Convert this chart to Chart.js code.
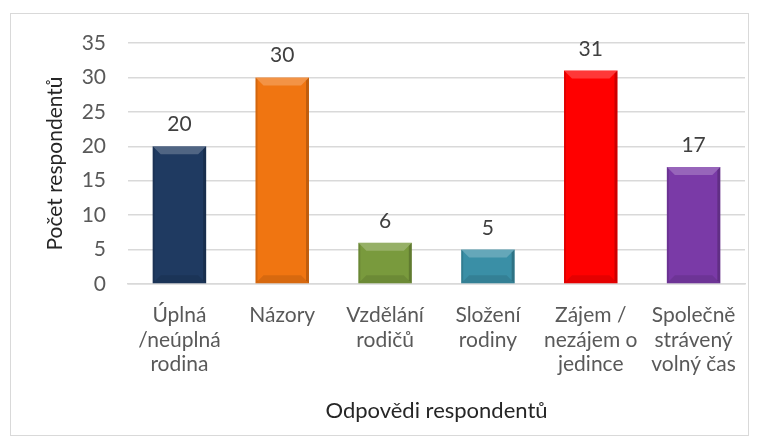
<!DOCTYPE html>
<html><head><meta charset="utf-8">
<script src="https://cdn.jsdelivr.net/npm/chart.js@4/dist/chart.umd.min.js"></script>
<style>
html,body{margin:0;padding:0;background:#fff;}
#wrap{position:relative;width:760px;height:448px;}
#frame{position:absolute;left:10px;top:13px;width:739px;height:423px;border:1px solid #d9d9d9;box-sizing:border-box;pointer-events:none;}
</style></head>
<body>
<div id="wrap"><canvas id="c" width="760" height="448"></canvas><div id="frame"></div></div>
<script>
const categories = [
  ["Úplná","/neúplná","rodina"],
  ["Názory"],
  ["Vzdělání","rodičů"],
  ["Složení","rodiny"],
  ["Zájem /","nezájem o","jedince"],
  ["Společně","strávený","volný čas"]
];
const values = [20, 30, 6, 5, 31, 17];
const barColors = ["#1F3A61", "#F07511", "#799A3D", "#3A8FA6", "#FF0000", "#7A3AA7"];
const yTicks = [0, 5, 10, 15, 20, 25, 30, 35];
const yTitle = "Počet respondentů";
const xTitle = "Odpovědi respondentů";

const FONT = "Lato, 'Open Sans', sans-serif";
const FS = 21;

const valueLabels = {
  id: 'valueLabels',
  afterDatasetsDraw(chart) {
    const ctx = chart.ctx;
    const meta = chart.getDatasetMeta(0);
    ctx.save();
    ctx.font = FS + "px " + FONT;
    ctx.fillStyle = "#404040";
    ctx.textAlign = "center";
    ctx.textBaseline = "alphabetic";
    meta.data.forEach((bar, i) => {
      ctx.fillText(String(values[i]), bar.x, bar.y - 15);
    });
    ctx.restore();
  }
};

const bevel = {
  id: 'bevel',
  afterDatasetsDraw(chart) {
    const ctx = chart.ctx;
    const meta = chart.getDatasetMeta(0);
    ctx.save();
    meta.data.forEach((bar) => {
      const l = bar.x - bar.width / 2, r = bar.x + bar.width / 2;
      const t = bar.y, b = bar.base;
      const d = Math.min(8, (b - t) / 2);
      ctx.fillStyle = "rgba(255,255,255,0.22)";
      ctx.beginPath();
      ctx.moveTo(l, t); ctx.lineTo(r, t); ctx.lineTo(r - d, t + d); ctx.lineTo(l + d, t + d); ctx.closePath(); ctx.fill();
      ctx.fillStyle = "rgba(0,0,0,0.2)";
      ctx.beginPath();
      ctx.moveTo(r, t); ctx.lineTo(r, b); ctx.lineTo(r - 3, b - 3); ctx.lineTo(r - 3, t + 3); ctx.closePath(); ctx.fill();
      ctx.fillStyle = "rgba(0,0,0,0.1)";
      ctx.beginPath();
      ctx.moveTo(l, b); ctx.lineTo(r, b); ctx.lineTo(r - d, b - d); ctx.lineTo(l + d, b - d); ctx.closePath(); ctx.fill();
      ctx.fillStyle = "rgba(0,0,0,0.12)";
      ctx.beginPath();
      ctx.moveTo(l, t); ctx.lineTo(l, b); ctx.lineTo(l + 2, b - 2); ctx.lineTo(l + 2, t + 2); ctx.closePath(); ctx.fill();
    });
    ctx.restore();
  }
};

new Chart(document.getElementById('c'), {
  type: 'bar',
  data: {
    labels: categories,
    datasets: [{
      data: values,
      backgroundColor: barColors,
      borderWidth: 0,
      barPercentage: 0.52,
      categoryPercentage: 1.0
    }]
  },
  options: {
    responsive: false,
    animation: false,
    devicePixelRatio: 1,
    layout: { padding: { left: 43, right: 15, top: 43, bottom: 24 } },
    plugins: { legend: { display: false }, tooltip: { enabled: false } },
    scales: {
      x: {
        afterFit(scale) { scale.height = 140; },
        grid: { display: false, drawTicks: false },
        border: { display: true, color: "#d9d9d9", width: 1.5 },
        ticks: { color: "#595959", font: { family: FONT, size: FS, lineHeight: 1.17 }, padding: 19, maxRotation: 0, autoSkip: false },
        title: { display: true, text: xTitle, color: "#262626", font: { family: FONT, size: 22 }, padding: { top: 8, bottom: 0 } }
      },
      y: {
        min: 0, max: 35,
        afterBuildTicks(scale) { scale.ticks = yTicks.map(v => ({ value: v })); },
        afterFit(scale) { scale.width = 85; },
        grid: { color: "#d9d9d9", lineWidth: 1.5, drawTicks: false },
        border: { display: false },
        ticks: { color: "#595959", font: { family: FONT, size: FS }, padding: 22 },
        title: { display: true, text: yTitle, color: "#262626", font: { family: FONT, size: FS }, padding: { top: 0, bottom: 6 } }
      }
    }
  },
  plugins: [valueLabels, bevel]
});
</script>
</body></html>
